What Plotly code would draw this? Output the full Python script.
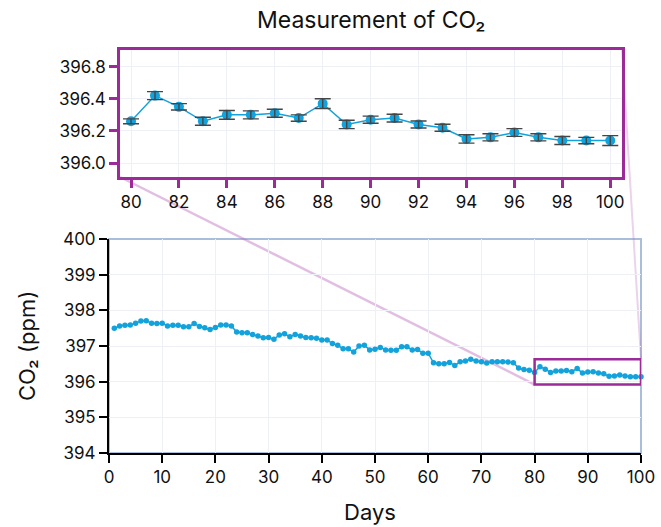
import plotly.graph_objects as go

# Daily CO2 readings (ppm), days 1-100
days = list(range(1, 101))
co2 = [
    397.50, 397.56, 397.58, 397.59, 397.64, 397.70, 397.71, 397.64, 397.63, 397.64,
    397.56, 397.58, 397.58, 397.54, 397.54, 397.63, 397.55, 397.51, 397.46, 397.52,
    397.59, 397.59, 397.56, 397.39, 397.37, 397.37, 397.32, 397.28, 397.23, 397.24,
    397.19, 397.31, 397.34, 397.26, 397.32, 397.28, 397.24, 397.23, 397.22, 397.17,
    397.17, 397.07, 397.02, 396.92, 396.92, 396.83, 397.00, 397.02, 396.89, 396.91,
    396.96, 396.89, 396.88, 396.88, 396.98, 396.98, 396.89, 396.90, 396.80, 396.80,
    396.53, 396.50, 396.50, 396.54, 396.45, 396.56, 396.58, 396.63, 396.58, 396.56,
    396.52, 396.56, 396.56, 396.56, 396.55, 396.53, 396.38, 396.34, 396.32, 396.26,
    396.42, 396.35, 396.26, 396.30, 396.30, 396.31, 396.28, 396.37, 396.24, 396.27,
    396.28, 396.24, 396.22, 396.15, 396.16, 396.19, 396.16, 396.14, 396.14, 396.14,
]

# Measurement uncertainty for the zoomed window (days 80-100)
zoom_days = list(range(80, 101))
zoom_err = [
    0.015, 0.025, 0.020, 0.025, 0.027, 0.025, 0.025, 0.020, 0.030, 0.026,
    0.022, 0.024, 0.022, 0.022, 0.026, 0.022, 0.024, 0.022, 0.025, 0.020, 0.031,
]
zoom_co2 = co2[79:100]

# Zoom window limits
zoom_x = [80, 100]
zoom_y = [395.92, 396.63]

# Axis ranges and ticks
main_x_range = [0, 100]
main_y_range = [394, 400]
main_x_ticks = list(range(0, 101, 10))
main_y_ticks = [394, 395, 396, 397, 398, 399, 400]
inset_x_range = [79.54, 100.49]
inset_y_range = [395.913, 396.704]
inset_x_ticks = list(range(80, 101, 2))
inset_y_tickvals = [396.0, 396.2, 396.4, 396.6]
inset_y_ticktext = ["396.0", "396.2", "396.4", "396.8"]

W, H = 661, 527
FONT = "Inter"
BLUE = "#12a2dc"
PURPLE = "#9c2a98"
GRID = "#eef0f6"
ERR = "#454545"

# Plot domains (paper fractions)
main_dx = [109 / W, 641 / W]
main_dy = [1 - 453 / H, 1 - 239 / H]
inset_dx = [120 / W, 622 / W]
inset_dy = [1 - 177 / H, 1 - 50 / H]

fig = go.Figure()

fig.add_trace(go.Scatter(
    x=days, y=co2, mode="lines+markers",
    line=dict(color=BLUE, width=1.5),
    marker=dict(color=BLUE, size=5.5),
    xaxis="x", yaxis="y", showlegend=False, cliponaxis=False,
))

# inset: line with markers, then the error bars drawn over them
fig.add_trace(go.Scatter(
    x=zoom_days, y=zoom_co2, mode="lines+markers",
    line=dict(color=BLUE, width=1.5),
    marker=dict(color=BLUE, size=10),
    xaxis="x2", yaxis="y2", showlegend=False,
))
fig.add_trace(go.Scatter(
    x=zoom_days, y=zoom_co2, mode="markers",
    marker=dict(color=BLUE, size=1, opacity=0),
    error_y=dict(type="data", array=zoom_err, color=ERR, thickness=1.4, width=8),
    xaxis="x2", yaxis="y2", showlegend=False, hoverinfo="skip",
))


def to_paper(x, y):
    px = main_dx[0] + (x - main_x_range[0]) / (main_x_range[1] - main_x_range[0]) * (main_dx[1] - main_dx[0])
    py = main_dy[0] + (y - main_y_range[0]) / (main_y_range[1] - main_y_range[0]) * (main_dy[1] - main_dy[0])
    return px, py


ll = to_paper(zoom_x[0], zoom_y[0])
ur = to_paper(zoom_x[1], zoom_y[1])

shapes = [
    # light frame around the main plot
    dict(type="rect", xref="x domain", yref="y domain", x0=0, x1=1, y0=0, y1=1,
         line=dict(color="#a8bedb", width=2), layer="below"),
    # connectors between the inset and the zoom window
    dict(type="line", xref="paper", yref="paper", x0=inset_dx[0], y0=inset_dy[0],
         x1=ll[0], y1=ll[1], line=dict(color="rgba(190,110,190,0.45)", width=2.5), layer="below"),
    dict(type="line", xref="paper", yref="paper", x0=inset_dx[1], y0=inset_dy[1],
         x1=ur[0], y1=ur[1], line=dict(color="rgba(190,110,190,0.3)", width=2), layer="below"),
    # zoom window on the main plot
    dict(type="rect", xref="x", yref="y", x0=zoom_x[0], x1=zoom_x[1], y0=zoom_y[0], y1=zoom_y[1],
         line=dict(color=PURPLE, width=2.5), layer="above"),
]

annotations = [
    dict(text="Measurement of CO₂", xref="paper", yref="paper",
         x=(inset_dx[0] + inset_dx[1]) / 2, y=1 - 20 / H, showarrow=False,
         font=dict(size=23, color="#111"), xanchor="center", yanchor="middle"),
    dict(text="Days", xref="paper", yref="paper",
         x=370 / W, y=1 - 512 / H, showarrow=False,
         font=dict(size=22, color="#111"), xanchor="center", yanchor="middle"),
    dict(text="CO₂ (ppm)", xref="paper", yref="paper", textangle=-90,
         x=27 / W, y=(main_dy[0] + main_dy[1]) / 2, showarrow=False,
         font=dict(size=22, color="#111"), xanchor="center", yanchor="middle"),
]

common = dict(showgrid=True, gridcolor=GRID, gridwidth=1, zeroline=False,
              automargin=False, ticks="outside", ticklen=8,
              tickfont=dict(size=17, color="#111"))

fig.update_layout(
    width=W, height=H,
    margin=dict(l=0, r=0, t=0, b=0, pad=0),
    paper_bgcolor="white", plot_bgcolor="rgba(0,0,0,0)",
    font=dict(family=FONT, size=17, color="#111"),
    shapes=shapes, annotations=annotations,
    xaxis=dict(domain=main_dx, range=main_x_range, tickvals=main_x_ticks,
               showline=True, linecolor="black", linewidth=2,
               tickwidth=2, tickcolor="black", anchor="y", **common),
    yaxis=dict(domain=main_dy, range=main_y_range, tickvals=main_y_ticks,
               showline=True, linecolor="black", linewidth=2,
               tickwidth=2, tickcolor="black", anchor="x", **common),
    xaxis2=dict(domain=inset_dx, range=inset_x_range, tickvals=inset_x_ticks,
                showline=True, mirror=True, linecolor=PURPLE, linewidth=2.5,
                tickwidth=2.5, tickcolor=PURPLE, anchor="y2", **common),
    yaxis2=dict(domain=inset_dy, range=inset_y_range, tickvals=inset_y_tickvals,
                ticktext=inset_y_ticktext,
                showline=True, mirror=True, linecolor=PURPLE, linewidth=2.5,
                tickwidth=2.5, tickcolor=PURPLE, anchor="x2", **common),
)

fig.write_html("out.html")
